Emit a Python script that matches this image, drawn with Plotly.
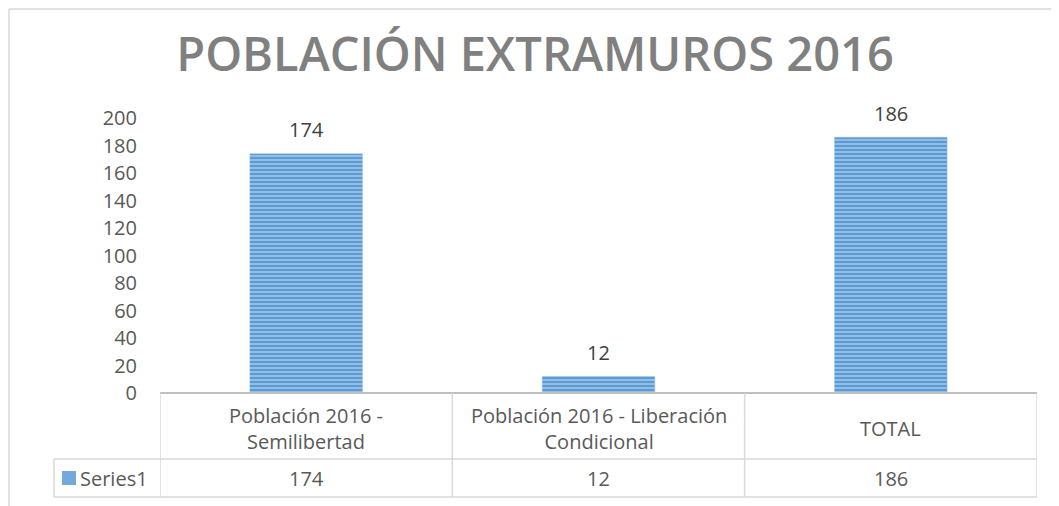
import plotly.graph_objects as go

categories = ["Población 2016 - Semilibertad", "Población 2016 - Liberación Condicional", "TOTAL"]
header_labels = ["Población 2016 -<br>Semilibertad", "Población 2016 - Liberación<br>Condicional", "TOTAL"]
values = [174, 12, 186]
series_name = "Series1"
title_text = "POBLACIÓN EXTRAMUROS 2016"
y_ticks = list(range(0, 201, 20))

# page is offset by the default 8px body margin
OFF = 8
PW, PH = 1059, 506
W, H = PW - OFF, PH - OFF
# plot area in page pixels: x 160..1037, y 118..393
L = 160 - OFF
R = W - (1037 - OFF)
T = 118 - OFF
B = H - (393 - OFF)
pw, ph = W - L - R, H - T - B

def px_x(p):
    return (p - OFF - L) / pw

def px_y(p):
    return (H - B - (p - OFF)) / ph

FONT = "Open Sans, Lato, sans-serif"
FS = 20
TXT = "#595959"
GRID = "#d9d9d9"

fig = go.Figure()
fig.add_trace(go.Bar(
    x=categories, y=values, name=series_name, width=0.385,
    marker=dict(
        color="#5b9bd5",
        line=dict(color="#8fb8e3", width=0.5),
        pattern=dict(shape="-", fgcolor="#cfe1f4", bgcolor="#5b9bd5", size=4, solidity=0.5, fillmode="overlay"),
    ),
    showlegend=False,
    hoverinfo="skip",
))

annotations = []
for c, v in zip(categories, values):
    annotations.append(dict(x=c, y=v, xref="x", yref="y", text=str(v), showarrow=False,
                            yshift=24, font=dict(family=FONT, size=FS, color="#404040")))
yh = px_y(428)
yd = px_y(478)
for c, lab, v in zip(categories, header_labels, values):
    annotations.append(dict(x=c, y=yh, xref="x", yref="paper", text=lab, showarrow=False,
                            yanchor="middle", font=dict(family=FONT, size=FS, color=TXT)))
    annotations.append(dict(x=c, y=yd, xref="x", yref="paper", text=str(v), showarrow=False,
                            yanchor="middle", font=dict(family=FONT, size=FS, color=TXT)))
annotations.append(dict(x=px_x(78), y=yd, xref="paper", yref="paper", text=series_name, showarrow=False,
                        xanchor="left", yanchor="middle", font=dict(family=FONT, size=FS, color=TXT)))

shapes = []
line = dict(color=GRID, width=1.5)
y_top = px_y(393)
y_mid = px_y(459)
y_bot = px_y(497)
x_leg = px_x(54)
shapes.append(dict(type="line", xref="paper", yref="paper", x0=0, x1=1, y0=y_top, y1=y_top,
                   line=dict(color="#bfbfbf", width=2)))
shapes.append(dict(type="line", xref="paper", yref="paper", x0=x_leg, x1=1, y0=y_mid, y1=y_mid, line=line))
shapes.append(dict(type="line", xref="paper", yref="paper", x0=x_leg, x1=1, y0=y_bot, y1=y_bot, line=line))
for i in range(len(categories) + 1):
    shapes.append(dict(type="line", xref="x", yref="paper", x0=i - 0.5, x1=i - 0.5, y0=y_top, y1=y_bot, line=line))
shapes.append(dict(type="line", xref="paper", yref="paper", x0=x_leg, x1=x_leg, y0=y_mid, y1=y_bot, line=line))
# legend key
shapes.append(dict(type="rect", xref="paper", yref="paper", x0=px_x(62), x1=px_x(76), y0=px_y(485), y1=px_y(471),
                   fillcolor="#74a9de", line=dict(width=0)))
# chart outer border (top and left)
shapes.append(dict(type="line", xref="paper", yref="paper", x0=px_x(OFF + 1), x1=px_x(PW + 5),
                   y0=px_y(OFF + 1), y1=px_y(OFF + 1), line=line))
shapes.append(dict(type="line", xref="paper", yref="paper", x0=px_x(OFF + 1), x1=px_x(OFF + 1),
                   y0=px_y(OFF + 1), y1=px_y(PH + 5), line=line))

fig.update_layout(
    width=W, height=H,
    margin=dict(l=L, r=R, t=T, b=B, autoexpand=False),
    paper_bgcolor="white", plot_bgcolor="white",
    title=dict(text=title_text, x=(535 - OFF) / W, xref="container", xanchor="center",
               y=1 - (55 - OFF) / H, yref="container", yanchor="middle",
               font=dict(family=FONT, size=47, color="#808080", weight=600)),
    xaxis=dict(showticklabels=False, showgrid=False, zeroline=False, showline=False,
               range=[-0.5, len(categories) - 0.5], fixedrange=True),
    yaxis=dict(range=[0, 200], tickvals=y_ticks, showgrid=False, zeroline=False, showline=False,
               ticks="", ticklabelstandoff=22,
               tickfont=dict(family=FONT, size=FS, color=TXT), fixedrange=True),
    annotations=annotations,
    shapes=shapes,
    showlegend=False,
)

fig.write_html("out.html")
